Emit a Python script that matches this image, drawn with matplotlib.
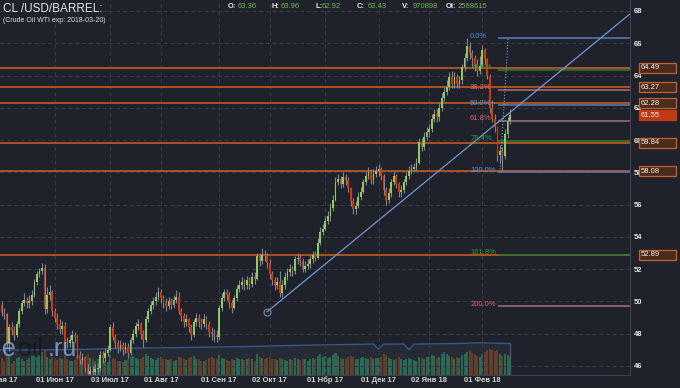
import numpy as np
import pandas as pd
import matplotlib
matplotlib.use('Agg')
import matplotlib.pyplot as plt
from matplotlib import transforms
from matplotlib.patches import Rectangle

plt.rcParams['font.family'] = ['Liberation Sans', 'DejaVu Sans']

# daily OHLC, 2017-05-01 .. 2018-02-16 (trading days)
opens = [
    50.1, 49.8, 49.3, 49.2, 47.4, 48.4, 48.2, 47.9, 48.6, 49.4, 49.9, 50.1, 49.9, 50.0, 50.4, 51.2, 51.7, 51.9, 52.1, 49.5, 50.4, 50.6,
    49.4, 49.0, 48.6, 48.3, 48.5, 47.5, 47.4, 47.6, 47.9, 47.8, 46.7, 46.4, 46.5, 45.9, 45.5, 45.7, 45.6, 45.8, 45.9, 46.7, 46.5, 46.8,
    47.0, 48.4, 47.8, 47.4, 47.1, 47.3, 47.0, 47.2, 46.8, 47.6, 48.0, 48.5, 48.6, 48.0, 47.6, 48.9, 49.4, 49.8, 50.0, 50.3,
    50.6, 50.2, 49.9, 49.7, 50.0, 49.8, 50.1, 50.3, 49.4, 49.1, 48.7, 48.9, 48.4, 47.9, 48.7, 49.0, 48.7, 48.6, 48.9, 48.6, 48.1, 48.0, 47.9,
    47.8, 49.6, 50.2, 50.6, 50.4, 49.9, 49.6, 50.2, 50.8, 51.0, 51.2, 51.0, 51.3, 51.1, 51.5, 51.4, 52.8, 52.5, 52.9, 52.8,
    52.4, 51.7, 51.3, 51.0, 51.2, 50.5, 51.0, 51.5, 51.8, 52.0, 51.9, 52.6, 52.7, 52.5, 52.0, 52.2, 52.3, 52.6, 52.9, 52.7, 53.6, 54.3,
    54.5, 55.0, 55.3, 55.8, 56.3, 57.4, 57.6, 57.3, 57.7, 57.5, 57.0, 56.2, 55.7, 55.9, 56.5, 56.8, 57.4, 57.8, 58.0, 57.5, 57.9,
    58.1, 58.2, 57.8, 56.9, 56.3, 56.7, 57.4, 57.8, 57.3, 56.8, 56.9, 57.4, 57.8, 58.1, 58.2, 58.3, 58.6, 59.9, 59.6, 60.2,
    60.5, 60.7, 61.3, 61.6, 61.4, 62.0, 62.6, 63.0, 63.3, 63.9, 63.5, 63.9, 63.5, 63.7, 64.5, 65.1, 65.8, 65.4, 65.1, 64.7, 64.3,
    64.6, 65.6, 65.0, 64.0, 62.0, 61.3, 60.8, 59.1, 59.3, 59.0, 60.4, 61.2,
]
highs = [
    50.5, 50.0, 49.6, 49.3, 48.6, 48.7, 48.5, 48.8, 49.6, 50.1, 50.5, 50.3, 50.4, 50.7, 51.4, 51.9, 52.1, 52.4, 52.3, 50.9, 51.0, 50.7,
    49.6, 49.3, 48.9, 48.8, 48.7, 47.8, 47.9, 48.2, 48.1, 47.9, 46.9, 46.8, 46.6, 46.1, 46.0, 46.0, 46.1, 46.2, 46.9, 46.9, 47.1, 47.3,
    48.6, 48.7, 48.0, 47.6, 47.6, 47.5, 47.5, 47.4, 47.8, 48.3, 48.7, 48.9, 48.7, 48.2, 49.1, 49.6, 50.0, 50.3, 50.6, 50.9,
    50.8, 50.4, 50.2, 50.3, 50.2, 50.4, 50.7, 50.6, 49.6, 49.3, 49.2, 49.0, 48.6, 48.9, 49.3, 49.2, 49.0, 49.2, 49.1, 48.8, 48.4, 48.3, 48.2,
    49.8, 50.5, 50.8, 50.8, 50.6, 50.1, 50.4, 51.0, 51.3, 51.5, 51.4, 51.6, 51.5, 51.8, 51.8, 53.0, 53.0, 53.3, 53.2, 53.0,
    52.6, 51.9, 51.5, 51.5, 51.9, 51.3, 51.8, 52.1, 52.3, 52.2, 52.8, 53.0, 52.9, 52.7, 52.5, 52.6, 52.9, 53.1, 53.1, 53.9, 54.6, 54.8,
    55.3, 55.6, 56.1, 56.6, 57.7, 57.9, 57.8, 58.0, 57.9, 57.7, 57.1, 56.4, 56.2, 56.8, 57.1, 57.6, 58.1, 58.3, 58.2, 58.2, 58.4,
    58.5, 58.3, 57.9, 57.1, 57.0, 57.6, 58.1, 57.9, 57.4, 57.2, 57.6, 58.0, 58.4, 58.5, 58.6, 58.9, 60.1, 60.1, 60.5, 60.8,
    61.0, 61.6, 61.9, 61.9, 62.3, 62.9, 63.3, 63.7, 64.2, 64.3, 64.2, 64.1, 64.0, 64.7, 65.4, 66.3, 66.1, 65.6, 65.3, 65.0, 65.2,
    65.9, 65.7, 65.1, 64.1, 62.5, 61.6, 60.9, 59.7, 59.6, 60.7, 61.4, 61.9,
]
lows = [
    49.6, 49.1, 48.9, 47.2, 46.9, 47.9, 47.6, 47.8, 48.4, 49.2, 49.7, 49.6, 49.6, 49.8, 50.3, 51.0, 51.5, 51.7, 49.2, 49.3, 50.1, 49.1,
    48.7, 48.3, 48.0, 48.0, 47.2, 47.1, 47.2, 47.4, 47.5, 46.5, 46.1, 46.1, 45.6, 45.3, 45.3, 45.4, 45.4, 45.5, 45.7, 46.2, 46.3, 46.6,
    46.9, 47.6, 47.1, 46.8, 46.9, 46.7, 46.8, 46.5, 46.7, 47.4, 47.8, 48.2, 47.7, 47.2, 47.5, 48.7, 49.2, 49.5, 49.8, 50.1,
    49.9, 49.6, 49.4, 49.5, 49.5, 49.6, 49.9, 49.2, 48.8, 48.4, 48.5, 48.1, 47.6, 47.8, 48.5, 48.4, 48.3, 48.4, 48.3, 47.8, 47.6, 47.5, 47.5,
    47.6, 49.4, 50.0, 50.1, 49.6, 49.3, 49.5, 50.0, 50.6, 50.8, 50.7, 50.8, 50.8, 50.9, 51.1, 51.3, 52.2, 52.3, 52.5, 52.1,
    51.4, 51.0, 50.7, 50.8, 50.3, 50.3, 50.8, 51.3, 51.6, 51.6, 51.7, 52.3, 52.2, 51.8, 51.8, 52.0, 52.1, 52.4, 52.5, 52.6, 53.5, 54.1,
    54.4, 54.8, 55.0, 55.6, 56.2, 57.2, 57.0, 57.1, 57.2, 56.8, 55.9, 55.4, 55.4, 55.8, 56.3, 56.7, 57.2, 57.6, 57.3, 57.3, 57.7,
    57.8, 57.5, 56.6, 56.0, 56.1, 56.5, 57.2, 57.0, 56.5, 56.5, 56.7, 57.2, 57.6, 57.9, 58.0, 58.1, 58.5, 59.3, 59.4, 60.0,
    60.2, 60.5, 61.1, 61.1, 61.2, 61.8, 62.4, 62.8, 63.1, 63.2, 63.2, 63.2, 63.2, 63.5, 64.3, 64.9, 65.0, 64.5, 64.3, 64.0, 64.1,
    64.5, 64.7, 63.8, 61.7, 61.1, 60.5, 58.7, 58.6, 58.08, 58.8, 60.1, 61.0,
]
closes = [
    49.8, 49.3, 49.2, 47.4, 48.4, 48.2, 47.9, 48.6, 49.4, 49.9, 50.1, 49.9, 50.0, 50.4, 51.2, 51.7, 51.9, 52.1, 49.5, 50.4, 50.6, 49.4,
    49.0, 48.6, 48.3, 48.5, 47.5, 47.4, 47.6, 47.9, 47.8, 46.7, 46.4, 46.5, 45.9, 45.5, 45.7, 45.6, 45.8, 45.9, 46.7, 46.5, 46.8, 47.0,
    48.4, 47.8, 47.4, 47.1, 47.3, 47.0, 47.2, 46.8, 47.6, 48.0, 48.5, 48.6, 48.0, 47.6, 48.9, 49.4, 49.8, 50.0, 50.3, 50.6,
    50.2, 49.9, 49.7, 50.0, 49.8, 50.1, 50.3, 49.4, 49.1, 48.7, 48.9, 48.4, 47.9, 48.7, 49.0, 48.7, 48.6, 48.9, 48.6, 48.1, 48.0, 47.9, 47.8,
    49.6, 50.2, 50.6, 50.4, 49.9, 49.6, 50.2, 50.8, 51.0, 51.2, 51.0, 51.3, 51.1, 51.5, 51.4, 52.8, 52.5, 52.9, 52.8, 52.4,
    51.7, 51.3, 51.0, 51.2, 50.5, 51.0, 51.5, 51.8, 52.0, 51.9, 52.6, 52.7, 52.5, 52.0, 52.2, 52.3, 52.6, 52.9, 52.7, 53.6, 54.3, 54.5,
    55.0, 55.3, 55.8, 56.3, 57.4, 57.6, 57.3, 57.7, 57.5, 57.0, 56.2, 55.7, 55.9, 56.5, 56.8, 57.4, 57.8, 58.0, 57.5, 57.9, 58.1,
    58.2, 57.8, 56.9, 56.3, 56.7, 57.4, 57.8, 57.3, 56.8, 56.9, 57.4, 57.8, 58.1, 58.2, 58.3, 58.6, 59.9, 59.6, 60.2, 60.5,
    60.7, 61.3, 61.6, 61.4, 62.0, 62.6, 63.0, 63.3, 63.9, 63.5, 63.9, 63.5, 63.7, 64.5, 65.1, 65.8, 65.4, 65.1, 64.7, 64.3, 64.6,
    65.6, 65.0, 64.0, 62.0, 61.3, 60.8, 59.1, 59.3, 59.0, 60.4, 61.2, 61.55,
]
volumes = [
    380, 420, 350, 520, 460, 300, 340, 410, 450, 390, 330, 360, 420, 470, 510, 440, 480, 560, 600, 430, 380, 450,
    400, 360, 420, 380, 470, 390, 350, 330, 360, 440, 410, 380, 450, 500, 420, 380, 350, 400, 460, 370, 340, 310,
    480, 420, 390, 350, 330, 310, 360, 400, 450, 470, 420, 380, 400, 430, 500, 460, 420, 390, 370, 410,
    440, 400, 380, 360, 390, 350, 370, 430, 410, 390, 360, 420, 450, 470, 400, 380, 350, 340, 370, 410, 440, 420, 400,
    480, 420, 390, 370, 350, 380, 360, 410, 400, 380, 360, 390, 420, 380, 350, 500, 440, 410, 390, 420,
    450, 400, 380, 360, 420, 390, 370, 350, 380, 360, 410, 390, 370, 400, 380, 350, 390, 420, 400, 460, 500, 430,
    470, 420, 450, 480, 540, 460, 420, 400, 380, 430, 470, 440, 400, 380, 420, 450, 410, 390, 430, 400, 420,
    410, 450, 500, 480, 420, 390, 370, 400, 430, 380, 360, 390, 420, 400, 370, 340, 450, 420, 400, 430,
    440, 480, 460, 420, 450, 520, 560, 500, 470, 430, 400, 440, 420, 480, 520, 560, 600, 540, 500, 470, 450,
    520, 560, 600, 640, 620, 580, 600, 520, 470, 500, 480, 430,
]
# open interest (thousands) at selected bars
oi_idx = [0, 10, 20, 30, 40, 50, 60, 70, 80, 90, 100, 110, 120, 130, 140, 148, 150, 152, 160, 162, 164, 170, 180, 190, 195, 200, 202]
oi_vals = [2100, 2100, 2110, 2130, 2170, 2220, 2240, 2260, 2290, 2310, 2340, 2380, 2420, 2450, 2470, 2500, 2160, 2490,
           2500, 2120, 2490, 2510, 2530, 2580, 2560, 2540, 2540]

holidays = ['2017-05-29', '2017-07-04', '2017-09-04', '2017-11-23', '2017-12-25', '2018-01-01', '2018-01-15']
month_labels = ['01 Мая 17', '01 Июн 17', '03 Июл 17', '01 Авг 17', '01 Сен 17', '02 Окт 17',
                '01 Нбр 17', '01 Дек 17', '02 Янв 18', '01 Фев 18']

sr_levels = [64.49, 63.27, 62.28, 59.84, 58.08, 52.89]
last_price = 61.55
fib_high, fib_low = 66.3, 58.0
fib_ratios = [0.0, 0.236, 0.382, 0.5, 0.618, 0.764, 1.0, 1.618, 2.0]
fib_names = ['0.0%', '23.6%', '38.2%', '50.0%', '61.8%', '76.4%', '100.0%', '161.8%', '200.0%']
fib_kind = ['b', 'g', 'r', 'b', 'r', 'g', 'b', 'g', 'r']
trend_x = [105.9, 152.6]
trend_y = [49.35, 55.36]

header_labels = ['O:', 'H:', 'L:', 'C:', 'V:', 'OI:']
header_values = ['63.36', '63.96', '62.92', '63.43', '970898', '2568615']

dates = pd.bdate_range('2017-05-01', '2018-02-16')
dates = dates[~dates.isin(pd.to_datetime(holidays))]
o = np.array(opens); h = np.array(highs); l = np.array(lows); c = np.array(closes)
n = len(c)
assert len(dates) == n == len(o) == len(h) == len(l) == len(volumes)
idx = np.arange(n)
month_first = pd.Series(idx, index=dates).groupby([dates.year, dates.month]).first().values

BG = '#1f222a'
W, H = 680, 388
fig = plt.figure(figsize=(W / 100, H / 100), dpi=100, facecolor=BG)
ax = fig.add_axes([0, 13 / H, 630 / W, 375 / H])
ax.set_facecolor('none')
ax.set_zorder(3)
ax_v = fig.add_axes([0, 13 / H, 630 / W, 32 / H], sharex=ax)
ax_v.set_zorder(1)
ax_v.set_facecolor('none')
ax_v.axis('off')
ax_oi = fig.add_axes([0, 13 / H, 630 / W, 40 / H], sharex=ax)
ax_oi.set_zorder(0)
ax_oi.set_facecolor('none')
ax_oi.axis('off')

xmin, xmax = 0.4, 249.4
ymin, ymax = 45.44, 68.68

# volume + open interest
up = c >= o
ax_v.bar(idx, volumes, width=0.8, color=np.where(up, '#2c6f58', '#6d4128'), linewidth=0, alpha=0.9)
ax_v.set_ylim(0, 780)
ax_oi.fill_between(oi_idx, 425, oi_vals, color='#262a35', linewidth=0)
ax_oi.plot(oi_idx, oi_vals, color='#3b5585', lw=1)
ax_oi.vlines(oi_idx[-1], 425, oi_vals[-1], color='#3b5585', lw=1)
ax_oi.set_ylim(425, 3105)

# grid
for p in range(46, 69, 2):
    ax.axhline(p, color='#363a46', lw=0.7, ls=(0, (4, 3)), zorder=0)
for m in month_first:
    ax.axvline(m, color='#363a46', lw=0.7, ls=(0, (4, 3)), zorder=0)

# support / resistance lines
for lvl in sr_levels:
    ax.axhline(lvl, color='#b5581d', lw=1.3, zorder=1)

# fibonacci
fib_line_col = {'b': '#5876a8', 'g': '#2d7434', 'r': '#a06a78'}
fib_txt_col = {'b': '#5b8fe0', 'g': '#3a943c', 'r': '#e0607a'}
for r, name, k in zip(fib_ratios, fib_names, fib_kind):
    p = fib_high - r * (fib_high - fib_low)
    ax.hlines(p, 197.2, xmax, color=fib_line_col[k], lw=1.2, zorder=1.5)
    ax.text(186.2, p + 0.14, name, color=fib_txt_col[k], fontsize=5.5, va='center', ha='left', zorder=6)
ax.plot([198.0, 201.2], [fib_low, fib_high], color='#7f9fc8', lw=0.8, ls=':', zorder=5)

# trend line
slope = (trend_y[1] - trend_y[0]) / (trend_x[1] - trend_x[0])
ax.plot([trend_x[0], xmax], [trend_y[0], trend_y[0] + slope * (xmax - trend_x[0])], color='#7196d0', lw=0.9, zorder=5)
ax.plot(trend_x[0], trend_y[0], 'o', mfc='none', mec='#7d8ba5', ms=5, mew=0.8, zorder=5)

# candles
ax.vlines(idx, l, h, color='#80858f', lw=0.8, zorder=3)
ax.bar(idx, np.maximum(np.abs(c - o), 0.06), bottom=np.minimum(o, c), width=0.7,
       color=np.where(up, '#8fcb5c', '#d2360f'), linewidth=0, zorder=4)

ax.set_xlim(xmin, xmax)
ax.set_ylim(ymin, ymax)
ax.yaxis.tick_right()
ax.set_yticks(range(46, 69, 2))
ax.tick_params(axis='y', length=0, pad=3, labelsize=5.5, labelcolor='#e6e6e6')
for t in ax.get_yticklabels():
    t.set_fontweight('bold')
ax.set_xticks([])
for s in ['top', 'left']:
    ax.spines[s].set_visible(False)
ax.spines['right'].set_color('#3b4150')
ax.spines['bottom'].set_color('#3b4150')

# date labels
tdate = transforms.blended_transform_factory(ax.transData, fig.transFigure)
for m, lab in zip(month_first, month_labels):
    ax.text(m, 1 - 380 / H, lab, transform=tdate, ha='center', va='center', fontsize=5.5,
            fontweight='bold', color='#d2d2d2', clip_on=False)

# price boxes on the right
tbox = transforms.blended_transform_factory(fig.transFigure, ax.transData)
for lvl in sr_levels + [last_price]:
    last = lvl == last_price
    ax.add_patch(Rectangle((639 / W, lvl - 0.31), 37 / W, 0.62, transform=tbox, clip_on=False,
                           facecolor='#c23a14' if last else '#4a2c1c', edgecolor='#c23a14' if last else '#c5602a',
                           lw=0.9, zorder=6))
    ax.text(641 / W, lvl, f'{lvl:.2f}', transform=tbox, fontsize=5.5, color='#eeeeee',
            va='center', ha='left', clip_on=False, zorder=7)

# header
fig.text(3 / W, 1 - 9 / H, 'CL /USD/BARREL:', fontsize=8.5, color='#e4e4e4', va='center')
fig.text(3 / W, 1 - 20 / H, '(Crude Oil WTI exp: 2018-03-20)', fontsize=5, color='#dcdcdc', va='center')
lab_x = [228, 272, 315, 357, 402, 446]
val_x = [238, 281, 322, 368, 413, 458]
for lab, val, lx, vx in zip(header_labels, header_values, lab_x, val_x):
    fig.text(lx / W, 1 - 6 / H, lab, fontsize=5.5, fontweight='bold', color='#e8e8e8', va='center')
    fig.text(vx / W, 1 - 6 / H, val, fontsize=5.5, color='#6cb352', va='center')

# watermark
fig.text(2 / W, 1 - 349 / H, 'e', fontsize=18, color='#8fb8e0', alpha=0.75, va='center')
fig.text(18 / W, 1 - 349 / H, 'oil', fontsize=18, color='#101216', alpha=0.6, va='center')
fig.text(48 / W, 1 - 349 / H, '.ru', fontsize=18, color='#8fb8e0', alpha=0.75, va='center')

fig.savefig('out.png', dpi=100, facecolor=BG)
